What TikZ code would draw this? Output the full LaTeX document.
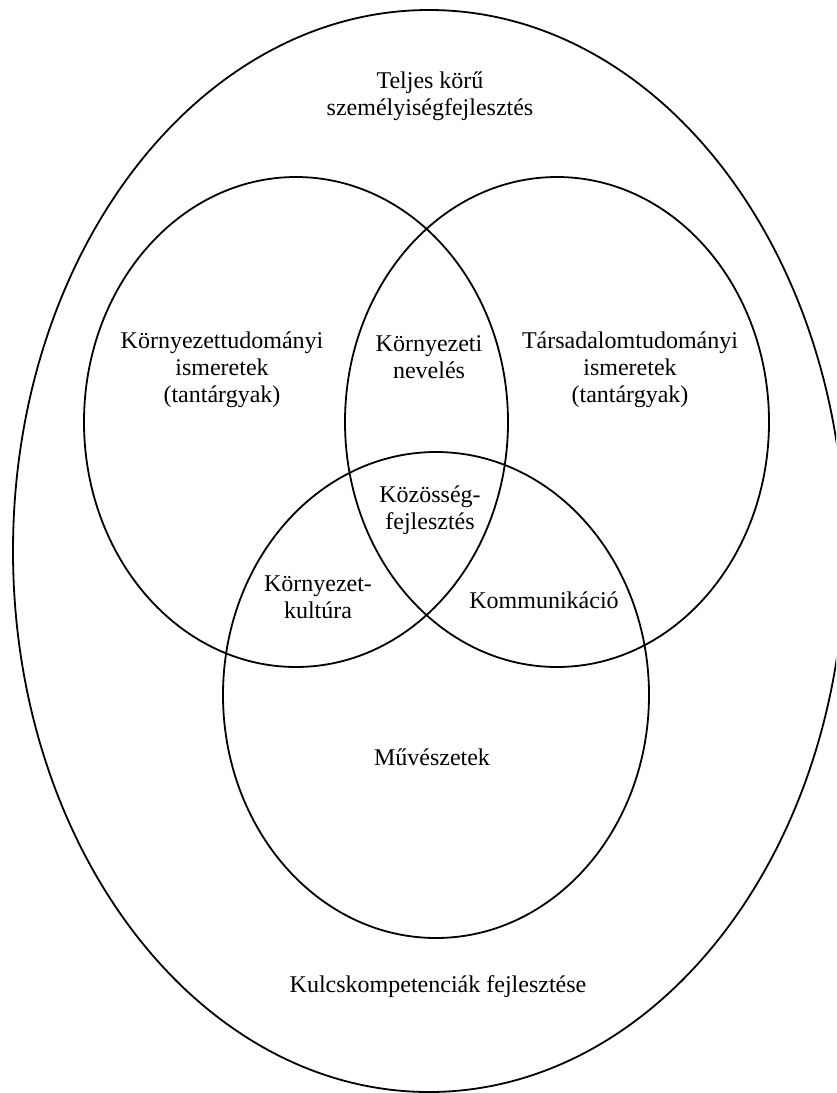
\documentclass[tikz,border=0pt]{standalone}
\usepackage{fontspec}
\setmainfont{Liberation Serif}
\usepackage{tikz}
\usepackage{xcolor}

\tikzset{
  venn/.style={draw=black, line width=0.9pt},
  lbl/.style={align=center, inner sep=0pt, font=\fontsize{12pt}{13.5pt}\selectfont}
}

\begin{document}
\begin{tikzpicture}[x=0.5pt, y=-0.5pt]
  % Fix the page to the reference size
  \useasboundingbox (0,0) rectangle (836,1093);
  \clip (0,0) rectangle (836,1093);

  % Draw the outer ellipse and the three inner ones
  \draw[venn] (429,551) ellipse [x radius=416, y radius=541];
  \draw[venn] (296,422) ellipse [x radius=212, y radius=245];
  \draw[venn] (557,422) ellipse [x radius=212, y radius=245];
  \draw[venn] (436,695) ellipse [x radius=213, y radius=243];

  % Put the labels in
  \node[lbl] (teljes) at (430,96) {Teljes körű\\személyiségfejlesztés};
  \node[lbl] (kornyism) at (222,370) {Környezettudományi\\ismeretek\\(tantárgyak)};
  \node[lbl] (kornynev) at (429,357) {Környezeti\\nevelés};
  \node[lbl] (tarsism) at (630,370) {Társadalomtudományi\\ismeretek\\(tantárgyak)};
  \node[lbl] (kozosseg) at (430,510) {Közösség-\\fejlesztés};
  \node[lbl] (kornykult) at (318,597) {Környezet-\\kultúra};
  \node[lbl] (kommun) at (544,600) {Kommunikáció};
  \node[lbl] (muvesz) at (432,757) {Művészetek};
  \node[lbl] (kulcs) at (438,987) {Kulcskompetenciák fejlesztése};
\end{tikzpicture}
\end{document}
